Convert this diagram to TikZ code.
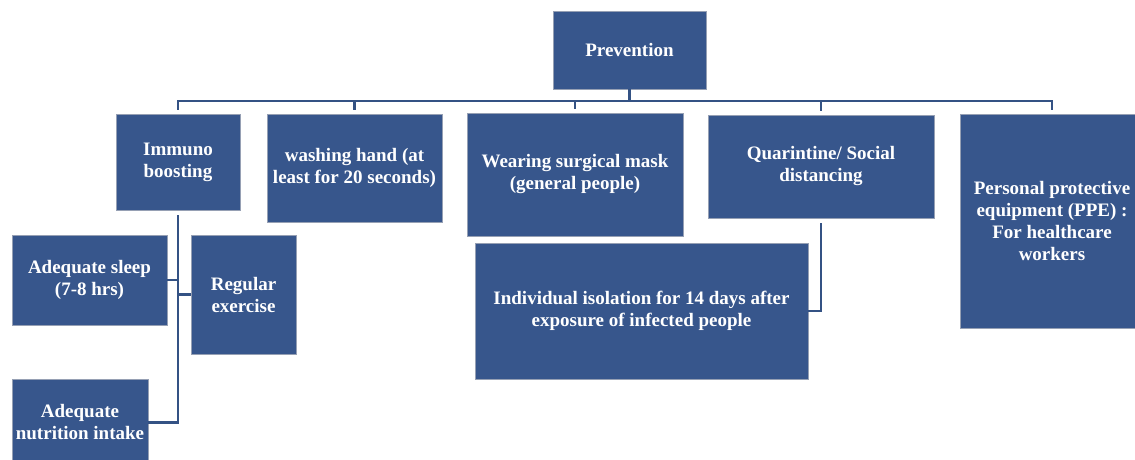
\documentclass[tikz,border=0pt]{standalone}
\usepackage{fontspec}
\setmainfont{Liberation Serif}
\definecolor{boxblue}{RGB}{55,86,140}
\definecolor{linkblue}{RGB}{52,82,132}
\definecolor{rimgray}{RGB}{150,160,180}

\begin{document}
\begin{tikzpicture}[x=1pt,y=-1pt,
    box/.style={rectangle,draw=rimgray,fill=boxblue,text=white,align=center,
      inner sep=0pt,font=\bfseries\fontsize{19}{22}\selectfont},
    link/.style={draw=linkblue,line width=2.8pt}]

      \useasboundingbox (0,0) rectangle (1135,460);

      \begin{scope}[every node/.style={box}]
        \node[minimum width=153,minimum height=78]  (prev)   at (629.5,50)  {Prevention};
        \node[minimum width=124,minimum height=96]  (immuno) at (178,162)   {Immuno\\boosting};
        \node[minimum width=175,minimum height=108] (wash)   at (354.5,168) {washing hand (at\\least for 20 seconds)};
        \node[minimum width=216,minimum height=123] (mask)   at (575,174.5) {Wearing surgical mask\\(general people)};
        \node[minimum width=226,minimum height=103] (quar)   at (821,166.5) {Quarintine/ Social\\distancing};
        \node[minimum width=184,minimum height=214] (ppe)    at (1052,221)  {Personal protective\\equipment (PPE) :\\For healthcare\\workers};
        \node[minimum width=333,minimum height=136] (iso)    at (641.5,311) {Individual isolation for 14 days after\\exposure of infected people};
        \node[minimum width=155,minimum height=90]  (sleep)  at (89.5,280)  {Adequate sleep\\(7-8 hrs)};
        \node[minimum width=105,minimum height=119] (exer)   at (243.5,294.5) {Regular\\exercise};
        \node[minimum width=136,minimum height=87]  (nutr)   at (80,422.5)  {Adequate\\nutrition intake};
      \end{scope}

      \coordinate (busl) at (178,101);
      \coordinate (busr) at (1052,101);

      \begin{scope}[every path/.style={link}]
        \draw (prev.south) -- (prev.south |- busl);
        \draw[line cap=rect] (busl) -- (busr);
        \foreach \n in {immuno,wash,mask,quar,ppe}
          \draw[shorten >=4pt] (\n.north |- busl) -- (\n.north);
        \draw[shorten <=5pt] (immuno.south) |- (nutr.east);
        \draw (sleep.east) -- (sleep.east -| immuno.south);
        \draw (exer.west) -- (exer.west -| immuno.south);
        \draw[shorten <=5pt] (quar.south) |- (iso.east);
      \end{scope}

    \end{tikzpicture}
\end{document}
